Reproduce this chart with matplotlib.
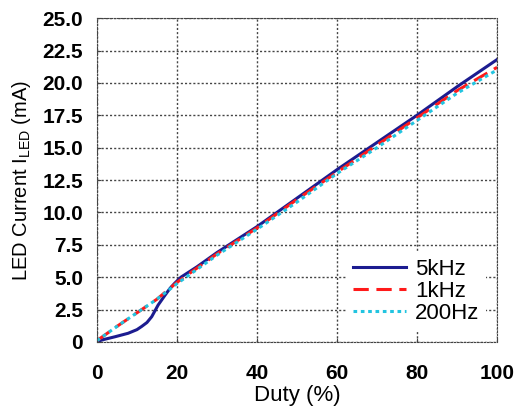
import matplotlib
matplotlib.use("Agg")
import matplotlib.pyplot as plt

plt.rcParams['font.family'] = ['Liberation Sans', 'DejaVu Sans']

duty = [0, 1.2, 4.5, 7.8, 10, 11.2, 12.5, 13.7, 15.3, 17, 18.3, 19.5, 21, 25, 30, 40, 50, 60, 70, 80, 90, 100]
i_5khz = [0.0, 0.15, 0.4, 0.67, 0.95, 1.2, 1.5, 1.95, 2.85, 3.6, 4.15, 4.55, 5.0, 5.8, 6.9, 8.9, 11.1, 13.3, 15.4, 17.5, 19.7, 21.8]
duty_b = [0, 5, 10, 15, 20, 25, 30, 40, 50, 60, 70, 80, 90, 100]
i_1khz = [0.1, 1.2, 2.25, 3.3, 4.6, 5.7, 6.8, 8.8, 11.0, 13.1, 15.2, 17.3, 19.4, 21.2]
i_200hz = [0.1, 1.2, 2.25, 3.3, 4.5, 5.6, 6.7, 8.7, 10.8, 13.0, 15.0, 17.1, 19.2, 21.0]

x_ticks = [0, 20, 40, 60, 80, 100]
y_ticks = [0, 2.5, 5.0, 7.5, 10.0, 12.5, 15.0, 17.5, 20.0, 22.5, 25.0]
y_labels = ['0', '2.5', '5.0', '7.5', '10.0', '12.5', '15.0', '17.5', '20.0', '22.5', '25.0']

fig = plt.figure(figsize=(5.21, 4.12), dpi=100)
ax = fig.add_axes([0.186, 0.170, 0.768, 0.786])

ax.plot(duty, i_5khz, color='#1c1c90', lw=2.2, label='5kHz')
ax.plot(duty_b, i_1khz, color='#ff1a1a', lw=2.2, ls=(0, (5, 2.5)), label='1kHz')
ax.plot(duty_b, i_200hz, color='#22c4e0', lw=2.2, ls=(0, (1.2, 1.2)), label='200Hz')

ax.set_xlim(0, 100)
ax.set_ylim(0, 25)
ax.set_xticks(x_ticks)
ax.set_yticks(y_ticks)
ax.set_yticklabels(y_labels)
ax.tick_params(direction='in', length=3, color='#444444', labelsize=15)
ax.tick_params(axis='y', pad=10)
ax.tick_params(axis='x', pad=16)
for lbl in ax.get_xticklabels() + ax.get_yticklabels():
    lbl.set_fontweight('bold')
ax.grid(True, color='#444444', ls=(0, (1.5, 1.5)), lw=1.0)
for s in ax.spines.values():
    s.set_color('#444444')
    s.set_linestyle((0, (1.5, 1.5)))

ax.set_xlabel('Duty (%)', fontsize=16, labelpad=1)
ax.set_ylabel(r'LED Current I$_{\mathregular{LED}}$ (mA)', fontsize=14.5, labelpad=7)

leg = ax.legend(loc='lower right', frameon=True, fontsize=16, handlelength=2.4,
                handletextpad=0.4, borderaxespad=0.5, borderpad=0.3, labelspacing=0.05)
leg.get_frame().set_edgecolor('none')
leg.get_frame().set_facecolor('white')
leg.get_frame().set_alpha(1)

fig.savefig('out.png', dpi=100)
